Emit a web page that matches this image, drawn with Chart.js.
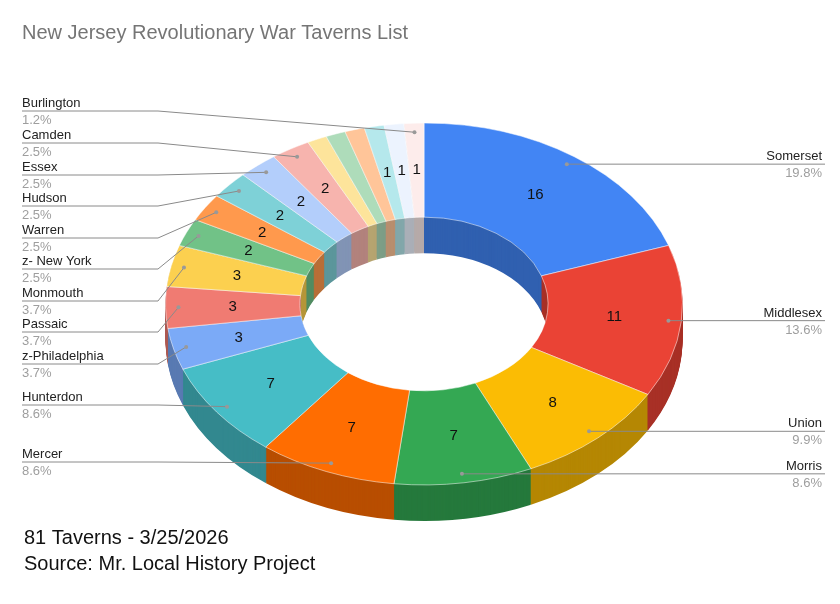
<!DOCTYPE html>
<html>
<head>
<meta charset="utf-8">
<script src="https://cdn.jsdelivr.net/npm/chart.js@4.4.0/dist/chart.umd.min.js"></script>
<style>
  body { margin: 0; background: #fff; }
  #wrap { position: relative; width: 840px; height: 604px; }
</style>
</head>
<body>
<div id="wrap"><canvas id="chart" width="840" height="604"></canvas></div>
<script>
// --- Data ---
const counties = ['Somerset', 'Middlesex', 'Union', 'Morris', 'Mercer', 'Hunterdon', 'z-Philadelphia',
  'Passaic', 'Monmouth', 'z- New York', 'Warren', 'Hudson', 'Essex', 'Camden',
  'Bergen', 'Gloucester', 'Salem', 'Sussex', 'Cape May', 'Burlington'];
const taverns = [16, 11, 8, 7, 7, 7, 3, 3, 3, 2, 2, 2, 2, 2, 1, 1, 1, 1, 1, 1];
const colors = ['#4285f4', '#ea4335', '#fbbc04', '#34a853', '#ff6d01', '#46bdc6', '#7baaf7', '#f07b72',
  '#fcd04f', '#71c287', '#ff994d', '#7ed1d7', '#b3cefb', '#f7b4ae', '#fde49b', '#aedcba',
  '#ffc599', '#b5e8ec', '#ecf3fe', '#fdeceb'];
const hideValue = ['Bergen', 'Gloucester', 'Salem'];
const rightLabels = ['Somerset', 'Middlesex', 'Union', 'Morris'];
const leftLabels = ['Burlington', 'Camden', 'Essex', 'Hudson', 'Warren', 'z- New York', 'Monmouth',
  'Passaic', 'z-Philadelphia', 'Hunterdon', 'Mercer'];
const leftLineY = [111, 143, 175, 206, 238, 269, 301, 332, 364, 405, 462];

// --- 3D look ---
const SY = 0.70;     // vertical squash
const DEPTH = 36;    // side height in px
const total = taverns.reduce((a, b) => a + b, 0);

function darken(hex, f) {
  const n = parseInt(hex.slice(1), 16);
  const r = Math.round(((n >> 16) & 255) * f), g = Math.round(((n >> 8) & 255) * f), b = Math.round((n & 255) * f);
  return `rgb(${r},${g},${b})`;
}

function project(el, a, r) {
  return { x: el.x + r * Math.cos(a), y: el.y + r * Math.sin(a) * SY };
}

const pie3d = {
  id: 'pie3d',
  beforeDatasetsDraw(chart) {
    const ctx = chart.ctx;
    const arcs = chart.getDatasetMeta(0).data;
    const cy = arcs[0].y;
    // side walls: stacked slices shifted down
    for (let d = DEPTH; d >= 1; d--) {
      ctx.save();
      ctx.translate(0, cy + d);
      ctx.scale(1, SY);
      ctx.translate(0, -cy);
      arcs.forEach((el, i) => {
        ctx.beginPath();
        ctx.arc(el.x, el.y, el.outerRadius, el.startAngle, el.endAngle);
        ctx.arc(el.x, el.y, el.innerRadius, el.endAngle, el.startAngle, true);
        ctx.closePath();
        ctx.fillStyle = darken(colors[i], 0.72);
        ctx.fill();
      });
      ctx.restore();
    }
    ctx.save();
    ctx.translate(0, cy);
    ctx.scale(1, SY);
    ctx.translate(0, -cy);
  },
  afterDatasetsDraw(chart) {
    chart.ctx.restore();
  },
  afterDraw(chart) {
    const ctx = chart.ctx;
    const arcs = chart.getDatasetMeta(0).data;
    ctx.save();
    // values on slices
    ctx.font = '15px "Liberation Sans", Arial, sans-serif';
    ctx.fillStyle = '#111';
    ctx.textAlign = 'center';
    ctx.textBaseline = 'middle';
    arcs.forEach((el, i) => {
      if (hideValue.includes(counties[i])) return;
      const a = (el.startAngle + el.endAngle) / 2;
      const p = project(el, a, (el.innerRadius + el.outerRadius) / 2);
      ctx.fillText(String(taverns[i]), p.x, p.y);
    });

    const drawLabel = (i, x, y, align) => {
      ctx.textAlign = align;
      ctx.textBaseline = 'alphabetic';
      ctx.font = '13px "Liberation Sans", Arial, sans-serif';
      ctx.fillStyle = '#222';
      ctx.fillText(counties[i], x, y - 4);
      ctx.fillStyle = '#9e9e9e';
      ctx.fillText((taverns[i] / total * 100).toFixed(1) + '%', x, y + 13);
    };
    ctx.strokeStyle = '#8a8a8a';
    ctx.lineWidth = 1;

    rightLabels.forEach(name => {
      const i = counties.indexOf(name);
      const el = arcs[i];
      const a = (el.startAngle + el.endAngle) / 2;
      const p = project(el, a, el.outerRadius * 0.95);
      ctx.beginPath();
      ctx.moveTo(p.x, p.y);
      ctx.lineTo(825, p.y);
      ctx.stroke();
      ctx.fillStyle = '#999';
      ctx.beginPath(); ctx.arc(p.x, p.y, 2, 0, Math.PI * 2); ctx.fill();
      drawLabel(i, 822, p.y, 'right');
    });

    leftLabels.forEach((name, k) => {
      const i = counties.indexOf(name);
      const el = arcs[i];
      const a = (el.startAngle + el.endAngle) / 2;
      const p = project(el, a, el.outerRadius * 0.95);
      const y = leftLineY[k];
      const elbow = Math.min(p.x, 158);
      ctx.beginPath();
      ctx.moveTo(22, y);
      ctx.lineTo(elbow, y);
      ctx.lineTo(p.x, p.y);
      ctx.stroke();
      ctx.fillStyle = '#999';
      ctx.beginPath(); ctx.arc(p.x, p.y, 2, 0, Math.PI * 2); ctx.fill();
      drawLabel(i, 22, y, 'left');
    });

    // title and footer
    ctx.textAlign = 'left';
    ctx.textBaseline = 'alphabetic';
    ctx.font = '20px "Liberation Sans", Arial, sans-serif';
    ctx.fillStyle = '#757575';
    ctx.fillText('New Jersey Revolutionary War Taverns List', 22, 39);
    ctx.fillStyle = '#111';
    ctx.fillText('81 Taverns - 3/25/2026', 24, 544);
    ctx.fillText('Source: Mr. Local History Project', 24, 570);
    ctx.restore();
  }
};

document.addEventListener('DOMContentLoaded', () => {
  new Chart(document.getElementById('chart').getContext('2d'), {
    type: 'doughnut',
    data: {
      labels: counties,
      datasets: [{ data: taverns, backgroundColor: colors, borderColor: 'rgba(255,255,255,0.6)', borderWidth: 1 }]
    },
    options: {
      responsive: false,
      animation: false,
      cutout: '48%',
      layout: { padding: { left: 165, right: 157, top: 45, bottom: 41 } },
      plugins: { legend: { display: false }, tooltip: { enabled: false } },
      events: []
    },
    plugins: [pie3d]
  });
});
</script>
</body>
</html>
